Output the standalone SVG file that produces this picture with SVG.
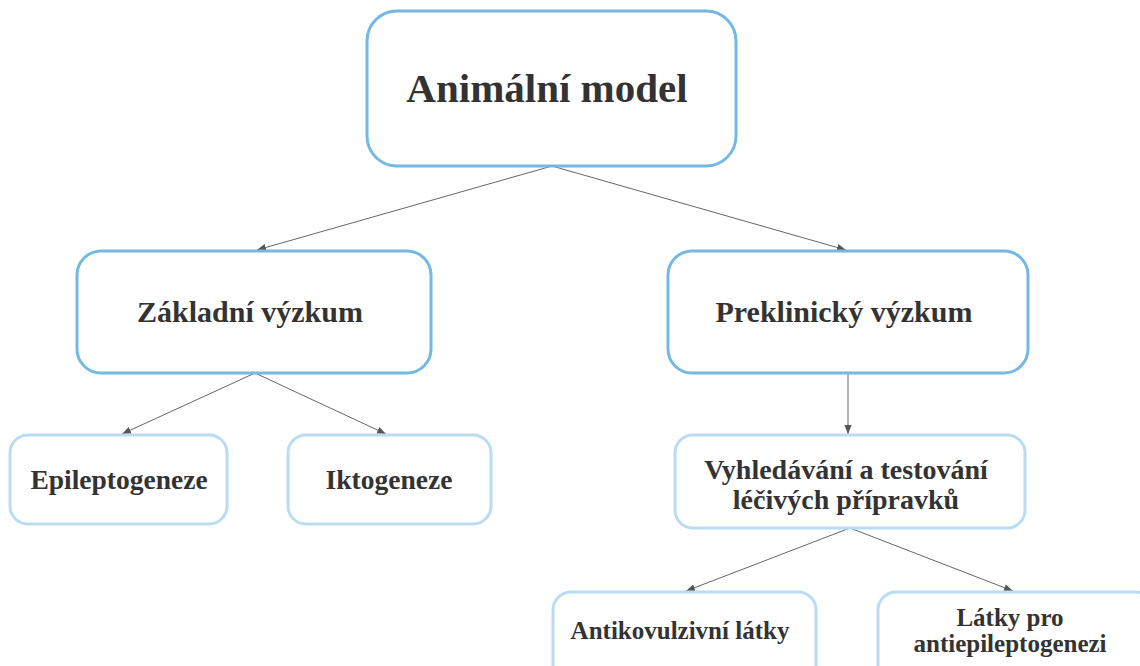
<svg xmlns="http://www.w3.org/2000/svg" width="1140" height="666" viewBox="0 0 1140 666">
  <defs>
    <style>
      .main { fill: #ffffff; stroke: #74b8e4; stroke-width: 3; }
      .sub { fill: #ffffff; stroke: #b9dcf2; stroke-width: 3; }
      .t { font-family: "Liberation Serif", "Times New Roman", serif; font-weight: bold; fill: #333333; text-anchor: middle; }
      .conn { stroke: #666666; stroke-width: 1; fill: none; marker-end: url(#arrow); }
    </style>
    <marker id="arrow" viewBox="0 0 10 10" refX="10" refY="5" markerWidth="9" markerHeight="9" markerUnits="userSpaceOnUse" orient="auto">
      <path d="M0,1 L10,5 L0,9 Z" fill="#555555"/>
    </marker>
  </defs>
  <rect width="1140" height="666" fill="#ffffff"/>

  <g id="connectors">
    <line class="conn" x1="552" y1="166" x2="257" y2="250"/>
    <line class="conn" x1="552" y1="166" x2="846" y2="250"/>
    <line class="conn" x1="255" y1="373" x2="122" y2="434"/>
    <line class="conn" x1="255" y1="373" x2="386" y2="434"/>
    <line class="conn" x1="848" y1="373" x2="848" y2="434"/>
    <line class="conn" x1="850" y1="528" x2="686" y2="591"/>
    <line class="conn" x1="850" y1="528" x2="1013" y2="591"/>
  </g>

  <g id="node-animalni-model">
    <rect class="main" x="367" y="11" width="369" height="155" rx="30"/>
    <text class="t" x="547" y="102" font-size="41">Animální model</text>
  </g>

  <g id="node-zakladni-vyzkum">
    <rect class="main" x="77" y="251" width="354" height="122" rx="24"/>
    <text class="t" x="250" y="322" font-size="30">Základní výzkum</text>
  </g>

  <g id="node-preklinicky-vyzkum">
    <rect class="main" x="668" y="251" width="360" height="122" rx="24"/>
    <text class="t" x="844" y="322" font-size="30">Preklinický výzkum</text>
  </g>

  <g id="node-epileptogeneze">
    <rect class="sub" x="10" y="435" width="217" height="89" rx="18"/>
    <text class="t" x="119" y="489" font-size="27.5">Epileptogeneze</text>
  </g>

  <g id="node-iktogeneze">
    <rect class="sub" x="288" y="435" width="203" height="89" rx="18"/>
    <text class="t" x="389" y="489" font-size="27.5">Iktogeneze</text>
  </g>

  <g id="node-vyhledavani">
    <rect class="sub" x="675" y="435" width="350" height="93" rx="18"/>
    <text class="t" x="846" y="479" font-size="28">Vyhledávání a testování</text>
    <text class="t" x="846" y="509" font-size="28">léčivých přípravků</text>
  </g>

  <g id="node-antikonvulzivni">
    <rect class="sub" x="553" y="592" width="263" height="92" rx="18"/>
    <text class="t" x="680" y="639" font-size="25">Antikovulzivní látky</text>
  </g>

  <g id="node-antiepileptogeneze">
    <rect class="sub" x="878" y="592" width="276" height="92" rx="18"/>
    <text class="t" x="1010" y="626" font-size="25">Látky pro</text>
    <text class="t" x="1010" y="652" font-size="25">antiepileptogenezi</text>
  </g>
</svg>
